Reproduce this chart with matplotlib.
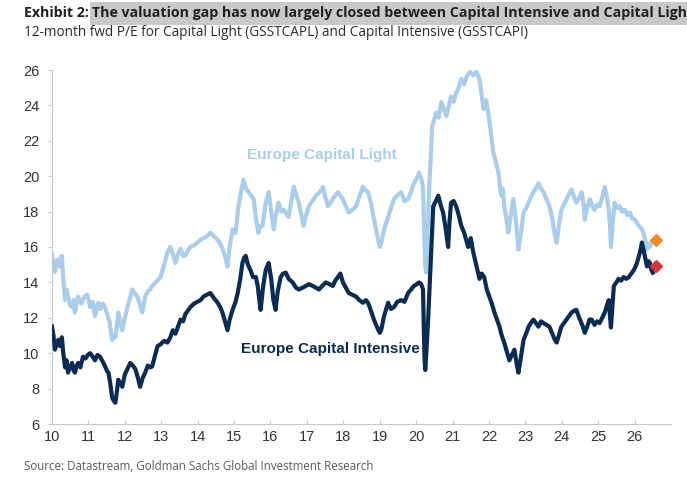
import matplotlib
matplotlib.use("Agg")
import matplotlib.pyplot as plt
from matplotlib import font_manager as fm
from matplotlib.patches import Rectangle

# ---------------- data ----------------
light_x = [10.00,10.04,10.08,10.13,10.17,10.22,10.27,10.31,10.36,10.40,10.44,10.50,10.55,10.60,10.63,10.68,10.72,10.80,10.90,10.97,
11.05,11.12,11.18,11.27,11.33,11.40,11.45,11.50,11.58,11.65,11.70,11.74,11.78,11.82,11.88,11.93,12.00,12.07,12.13,12.20,
12.27,12.34,12.41,12.48,12.56,12.63,12.70,12.75,12.85,12.98,13.08,13.17,13.25,13.32,13.39,13.46,13.53,13.60,13.66,13.73,
13.80,13.90,13.99,14.08,14.16,14.25,14.35,14.45,14.55,14.62,14.68,14.75,14.82,14.88,14.96,15.04,15.12,15.20,15.26,15.33,
15.40,15.47,15.54,15.60,15.67,15.72,15.78,15.87,15.95,16.02,16.09,16.15,16.22,16.30,16.36,16.43,16.50,16.57,16.64,16.71,
16.78,16.85,16.91,16.98,17.05,17.15,17.25,17.35,17.44,17.51,17.58,17.65,17.71,17.78,17.85,17.92,17.99,18.07,18.15,18.25,
18.35,18.45,18.54,18.61,18.68,18.76,18.84,18.92,19.00,19.04,19.12,19.23,19.31,19.39,19.48,19.59,19.68,19.78,19.86,19.94,
20.02,20.08,20.14,20.19,20.22,20.25,20.28,20.31,20.36,20.40,20.44,20.50,20.55,20.62,20.69,20.76,20.83,20.90,20.96,21.03,
21.10,21.17,21.24,21.32,21.40,21.48,21.57,21.65,21.74,21.80,21.85,21.92,21.98,22.05,22.12,22.19,22.26,22.30,22.34,22.38,
22.42,22.48,22.53,22.60,22.67,22.74,22.81,22.88,22.95,23.02,23.09,23.15,23.22,23.29,23.36,23.43,23.50,23.58,23.66,23.74,
23.80,23.86,23.92,23.99,24.06,24.13,24.20,24.27,24.34,24.40,24.48,24.55,24.60,24.63,24.70,24.77,24.84,24.90,24.97,25.04,
25.11,25.18,25.24,25.29,25.33,25.35,25.40,25.45,25.52,25.59,25.66,25.73,25.80,25.87,25.94,26.01,26.08,26.14,26.20,26.25,
26.30,26.34,26.38,26.42,26.47]
light_y = [15.6,15.0,14.6,15.2,15.3,14.9,15.5,14.2,13.0,13.6,13.2,12.7,12.6,13.0,12.3,12.9,13.2,12.8,13.2,13.3,
12.6,12.9,12.1,12.85,12.5,12.8,12.6,12.3,11.8,10.75,11.0,10.9,11.5,12.3,11.7,11.3,12.0,12.6,13.0,13.6,
13.4,13.2,12.8,12.3,13.2,13.5,13.6,13.8,14.0,14.3,15.0,15.7,16.0,15.6,15.1,15.6,15.9,15.5,15.5,15.8,
16.0,16.1,16.25,16.4,16.5,16.6,16.8,16.6,16.4,16.2,15.9,15.5,14.9,16.0,17.0,16.8,18.3,19.2,19.8,19.3,
19.1,18.9,18.7,17.6,16.8,17.2,17.2,18.5,19.1,18.0,17.0,17.8,18.5,18.0,18.1,17.9,17.7,18.6,19.4,18.9,
18.5,17.8,17.2,17.8,18.3,18.6,18.9,19.1,19.4,18.8,18.3,18.5,18.7,18.9,19.1,18.9,18.7,18.3,17.95,18.1,
18.3,18.9,19.4,19.2,19.1,18.5,17.6,16.8,16.0,16.2,17.0,17.7,18.2,18.7,18.9,19.1,18.6,18.7,19.1,19.6,
19.9,20.2,19.9,19.4,17.0,15.0,14.55,16.5,19.4,21.0,22.8,23.2,23.6,23.3,24.2,23.8,23.4,24.0,24.5,24.2,
24.7,25.0,25.5,25.2,25.7,25.9,25.7,25.9,25.5,24.6,23.8,24.3,23.6,22.5,21.35,20.8,20.2,19.5,18.9,19.3,
18.3,17.6,16.8,17.8,18.7,17.5,15.85,16.8,17.95,18.2,18.5,18.8,19.1,19.3,19.6,19.3,19.1,18.7,18.3,17.6,
16.8,16.25,17.2,18.1,18.4,18.7,19.0,19.25,18.8,18.5,18.8,19.1,18.4,17.55,18.2,18.7,18.3,18.1,18.4,18.3,
18.8,19.4,18.8,18.1,17.0,16.0,17.4,18.5,18.2,18.3,18.0,18.1,17.8,17.95,17.6,17.55,17.3,17.15,17.0,16.8,
16.3,15.85,16.2,16.0,16.25]

dark_x = [10.00,10.04,10.08,10.13,10.17,10.22,10.27,10.31,10.36,10.40,10.44,10.50,10.55,10.60,10.63,10.68,10.72,10.78,10.85,10.92,
10.98,11.05,11.12,11.18,11.25,11.32,11.40,11.46,11.51,11.55,11.60,11.65,11.70,11.74,11.78,11.82,11.88,11.93,12.00,12.07,
12.15,12.22,12.29,12.36,12.42,12.49,12.56,12.63,12.70,12.75,12.82,12.90,12.98,13.08,13.17,13.25,13.32,13.39,13.46,13.53,
13.60,13.66,13.73,13.80,13.90,13.99,14.08,14.16,14.25,14.35,14.45,14.55,14.62,14.68,14.75,14.82,14.88,14.96,15.04,15.10,
15.17,15.23,15.28,15.32,15.38,15.45,15.52,15.60,15.65,15.70,15.73,15.80,15.87,15.95,16.02,16.08,16.14,16.20,16.28,16.35,
16.42,16.50,16.61,16.70,16.78,16.88,16.97,17.06,17.16,17.25,17.33,17.42,17.52,17.62,17.71,17.78,17.85,17.92,17.99,18.07,
18.15,18.25,18.35,18.44,18.54,18.62,18.68,18.76,18.84,18.92,19.00,19.04,19.12,19.23,19.31,19.39,19.48,19.59,19.68,19.78,
19.86,19.94,20.02,20.08,20.14,20.19,20.21,20.23,20.25,20.28,20.33,20.39,20.43,20.47,20.54,20.61,20.67,20.74,20.80,20.88,
20.92,20.96,21.03,21.10,21.17,21.24,21.32,21.43,21.50,21.57,21.65,21.74,21.80,21.87,21.94,22.01,22.08,22.15,22.22,22.29,
22.35,22.42,22.49,22.56,22.63,22.70,22.76,22.81,22.88,22.95,23.02,23.09,23.15,23.22,23.29,23.36,23.43,23.50,23.58,23.66,
23.74,23.80,23.86,23.92,23.99,24.06,24.13,24.20,24.27,24.34,24.40,24.46,24.52,24.58,24.63,24.70,24.76,24.82,24.90,24.97,
25.04,25.11,25.18,25.24,25.29,25.32,25.35,25.39,25.43,25.50,25.56,25.63,25.70,25.77,25.84,25.91,25.98,26.05,26.12,26.17,
26.20,26.24,26.28,26.34,26.38,26.42,26.46,26.50]
dark_y = [11.5,11.0,10.2,10.5,10.75,10.4,10.9,10.0,9.2,9.6,8.9,9.2,9.45,9.0,8.9,9.3,9.45,9.2,9.8,9.7,
9.9,10.0,9.8,9.6,9.9,9.8,9.5,9.25,9.0,8.9,8.3,7.5,7.3,7.2,7.8,8.5,8.3,8.1,8.8,9.1,
9.45,9.3,9.1,8.6,8.1,8.6,8.9,9.3,9.2,9.25,9.8,10.4,10.5,10.7,10.6,10.9,11.3,11.1,11.5,11.9,
11.8,12.2,12.4,12.6,12.8,12.9,13.0,13.2,13.3,13.4,13.1,12.85,12.6,12.3,11.8,11.3,11.9,12.45,12.9,13.4,
14.2,15.1,15.4,15.5,15.0,14.7,14.3,14.3,13.8,12.9,12.45,13.8,14.7,15.1,14.2,13.0,12.45,13.5,14.3,14.5,
14.55,14.2,14.0,13.7,13.6,13.7,13.8,13.9,13.8,13.7,13.6,13.8,14.0,13.9,13.8,14.1,14.3,14.5,14.0,13.7,
13.4,13.3,13.2,13.0,12.85,13.0,12.85,12.4,11.9,11.5,11.15,11.3,12.1,12.85,12.5,12.6,12.9,13.0,12.9,13.4,
13.6,13.8,13.9,14.0,13.9,13.6,11.5,9.8,9.05,10.0,11.9,14.7,16.5,18.3,18.6,18.9,18.4,17.95,17.2,16.0,
17.5,18.5,18.6,18.3,17.8,17.2,16.8,16.0,16.5,15.7,15.0,14.2,14.5,14.3,13.6,13.2,12.8,12.3,11.9,11.5,
11.0,10.6,10.1,9.6,9.9,10.2,9.4,8.9,9.8,10.75,11.1,11.5,11.7,11.9,11.7,11.5,11.8,11.7,11.6,11.5,
11.1,10.8,10.6,11.0,11.5,11.7,11.9,12.1,12.3,12.4,12.45,12.1,11.8,11.5,11.15,11.5,11.9,11.9,11.6,11.8,
11.7,12.0,12.3,12.7,13.0,12.2,11.45,12.6,13.8,14.0,14.2,14.1,14.3,14.2,14.3,14.5,14.7,15.0,15.5,15.9,
16.25,15.9,15.5,14.9,15.2,15.1,14.7,14.55]

latest_x = [26.58]
latest_light = [16.4]
latest_dark = [14.95]

x_ticks = list(range(10, 27))
y_ticks = list(range(6, 27, 2))

title_lead = "Exhibit 2: "
title_main = "The valuation gap has now largely closed between Capital Intensive and Capital Light"
subtitle = "12-month fwd P/E for Capital Light (GSSTCAPL) and Capital Intensive (GSSTCAPI)"
source = "Source: Datastream, Goldman Sachs Global Investment Research"
label_light = "Europe Capital Light"
label_dark = "Europe Capital Intensive"

# ---------------- styling ----------------
avail = {f.name for f in fm.fontManager.ttflist}
narrow = "Liberation Sans Narrow" if "Liberation Sans Narrow" in avail else "Open Sans"
body = "Liberation Sans"

LIGHT = "#a9cdeb"
DARK = "#0b2c52"

W, H = 687, 480
fig = plt.figure(figsize=(W / 100, H / 100), dpi=100)
ax = fig.add_axes([52 / W, 1 - 424 / H, (671 - 52) / W, (424 - 70) / H])

ax.plot(light_x, light_y, color=LIGHT, lw=3.0, solid_joinstyle="round", zorder=2)
ax.plot(dark_x, dark_y, color=DARK, lw=3.0, solid_joinstyle="round", zorder=3)
ax.plot(latest_x, latest_light, marker="D", color="#ef8a2c", ms=6.5, ls="none", zorder=4)
ax.plot(latest_x, latest_dark, marker="D", color="#d2383a", ms=6.5, ls="none", zorder=4)

ax.set_xlim(10, 27)
ax.set_ylim(6, 26)
ax.set_xticks(x_ticks)
ax.set_yticks(y_ticks)
ax.set_xticklabels([str(t) for t in x_ticks], family=body, fontsize=10.5, color="#333333")
ax.set_yticklabels([str(t) for t in y_ticks], family=body, fontsize=10.5, color="#333333")
for s in ["top", "right"]:
    ax.spines[s].set_visible(False)
for s in ["left", "bottom"]:
    ax.spines[s].set_color("#c8c8c8")
    ax.spines[s].set_linewidth(0.8)
ax.tick_params(axis="both", colors="#c8c8c8", length=3, width=0.8, labelcolor="#333333")
ax.tick_params(axis="x", direction="in", pad=4)
ax.tick_params(axis="y", direction="out", pad=6)

ax.text(15.35, 21.2, label_light, color=LIGHT, fontsize=11, family=body,
        fontweight="bold", va="center", ha="left")
ax.text(15.18, 10.25, label_dark, color=DARK, fontsize=11, family=body,
        fontweight="bold", va="center", ha="left")

# ---------------- header / footer ----------------
fig.canvas.draw()
r = fig.canvas.get_renderer()

def fit(t, target_px):
    w = t.get_window_extent(r).width
    t.set_fontsize(t.get_fontsize() * target_px / w)

t1 = fig.text(24 / W, 1 - 13 / H, title_lead, family=narrow, fontweight="bold",
              fontsize=12, color="#1f1f1f", va="center", ha="left", zorder=3)
t2 = fig.text(0, 1 - 13 / H, title_main, family=narrow, fontweight="bold",
              fontsize=12, color="#1f1f1f", va="center", ha="left", zorder=3)
full = fig.text(0, 0, title_lead + title_main, family=narrow, fontweight="bold", fontsize=12)
fig.canvas.draw()
wfull = full.get_window_extent(r).width
scale = (687 - 24 + 5) / wfull
full.remove()
t1.set_fontsize(12 * scale)
t2.set_fontsize(12 * scale)
fig.canvas.draw()
e1 = t1.get_window_extent(r)
t2.set_x(e1.x1 / W)
fig.add_artist(Rectangle((e1.x1 / W - 2 / W, 1 - 25 / H), 1.0, 23 / H, transform=fig.transFigure,
                         facecolor="#c9c9c9", edgecolor="none", zorder=1))

t3 = fig.text(24 / W, 1 - 33 / H, subtitle, family=narrow, fontsize=12, color="#2b2b2b",
              va="center", ha="left")
t4 = fig.text(24 / W, 1 - 467 / H, source, family=narrow, fontsize=10, color="#595959",
              va="center", ha="left")
fig.canvas.draw()
fit(t3, 528 - 24)
fit(t4, 372 - 24)

fig.savefig("out.png", dpi=100)
